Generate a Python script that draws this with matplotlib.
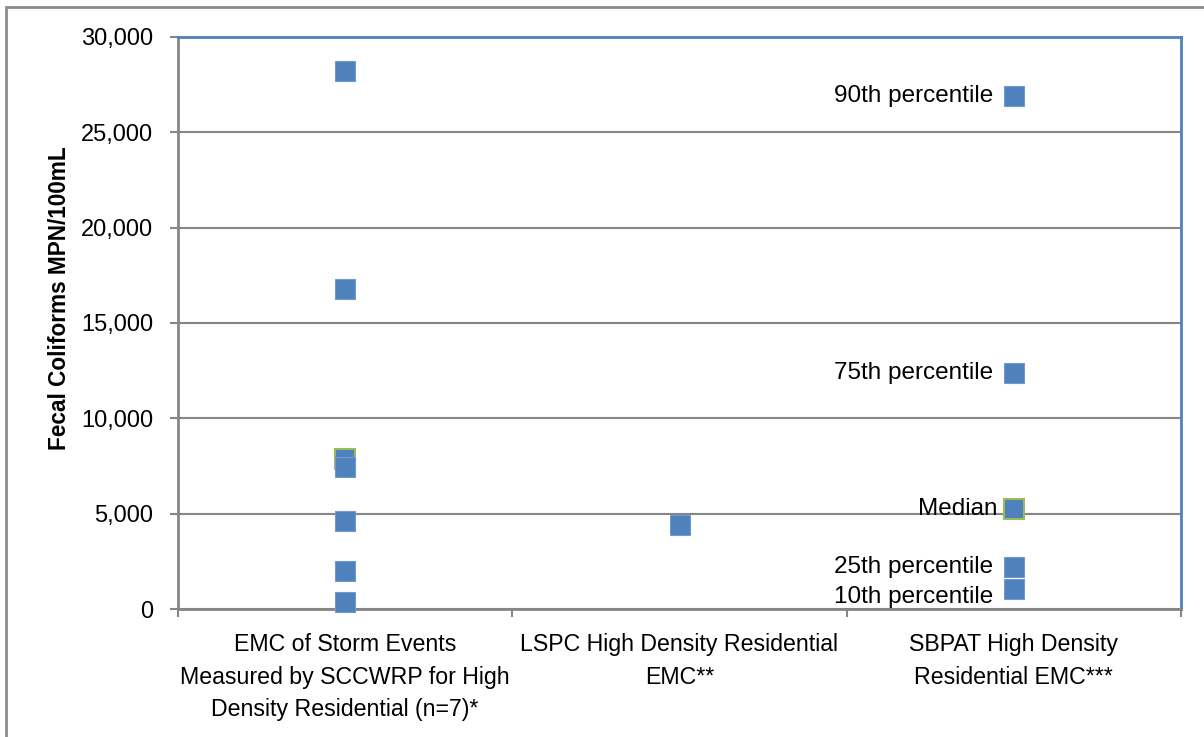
import matplotlib.pyplot as plt
from matplotlib.patches import Rectangle

# data
categories = ["EMC of Storm Events\nMeasured by SCCWRP for High\nDensity Residential (n=7)*",
              "LSPC High Density Residential\nEMC**",
              "SBPAT High Density\nResidential EMC***"]
emc_values = [28200, 16800, 7450, 4600, 2000, 380]
emc_median = 7870
lspc_emc = 4400
sbpat_labels = ["90th percentile", "75th percentile", "Median", "25th percentile", "10th percentile"]
sbpat_values = [26900, 12380, 5245, 2200, 1050]
yticks = [0, 5000, 10000, 15000, 20000, 25000, 30000]

blue = "#4F81BD"
green = "#9BBB59"
grid_grey = "#868686"

plt.rcParams['font.family'] = ['Liberation Sans', 'DejaVu Sans']

fig = plt.figure(figsize=(12.04, 7.37), dpi=100)
ax = fig.add_axes([178/1204, 1 - 609/737, (1181-178)/1204, (609-37)/737])

# outer chart frame (grey)
fig.patches.append(Rectangle((6/1204, -0.1), 1.2, (737-7)/737 + 0.1, transform=fig.transFigure,
                             fill=False, edgecolor="#8c8c8c", linewidth=2))

xs = [0.5, 1.5, 2.5]
ms = 14.5

# highlighted (green edged) markers drawn first
ax.plot([xs[0]], [emc_median], 's', ms=ms, mfc=blue, mec=green, mew=1.5, zorder=3, clip_on=False)
ax.plot([xs[2]], [sbpat_values[2]], 's', ms=ms, mfc=blue, mec=green, mew=1.5, zorder=3, clip_on=False)

ax.plot([xs[0]] * len(emc_values), emc_values, 's', ms=ms, mfc=blue, mec="#6f9bd0", mew=0.8,
        zorder=4, clip_on=False)
ax.plot([xs[1]], [lspc_emc], 's', ms=ms, mfc=blue, mec="#6f9bd0", mew=0.8, zorder=4, clip_on=False)
others = [v for i, v in enumerate(sbpat_values) if i != 2]
ax.plot([xs[2]] * len(others), others, 's', ms=ms, mfc=blue, mec="#6f9bd0", mew=0.8, zorder=4,
        clip_on=False)

# percentile labels to the left of the markers
for lab, v in zip(sbpat_labels, sbpat_values):
    dy = -6 if lab.startswith("10th") else 0
    dx = -12 if lab == "Median" else -15
    ax.annotate(lab, (xs[2], v), xytext=(dx, dy), textcoords='offset points',
                ha='right', va='center', fontsize=17.5, zorder=5)

ax.set_xlim(0, 3)
ax.set_ylim(0, 30000)
ax.set_yticks(yticks)
ax.set_yticklabels([f"{t:,}" for t in yticks], fontsize=17)
ax.set_xticks([0, 1, 2, 3])
ax.set_xticklabels([])
ax.set_xticks(xs, minor=True)
ax.set_xticklabels(categories, minor=True, fontsize=16.7, linespacing=1.55)
ax.tick_params(axis='x', which='minor', length=0, pad=17)
ax.tick_params(axis='x', which='major', length=6, color=grid_grey, width=1.5)
ax.tick_params(axis='y', length=6, color=grid_grey, width=1.5, pad=12)

ax.yaxis.grid(True, color=grid_grey, linewidth=1.5)
ax.set_axisbelow(True)

for s in ['top', 'right']:
    ax.spines[s].set_color(blue)
    ax.spines[s].set_linewidth(2)
for s in ['left', 'bottom']:
    ax.spines[s].set_color(grid_grey)
    ax.spines[s].set_linewidth(2)
    ax.spines[s].set_zorder(2.5)

fig.text(60/1204, 1 - 298/737, "Fecal Coliforms MPN/100mL", fontsize=16.3, fontweight='bold',
         rotation=90, ha='center', va='center')

fig.savefig("out.png", dpi=100)
